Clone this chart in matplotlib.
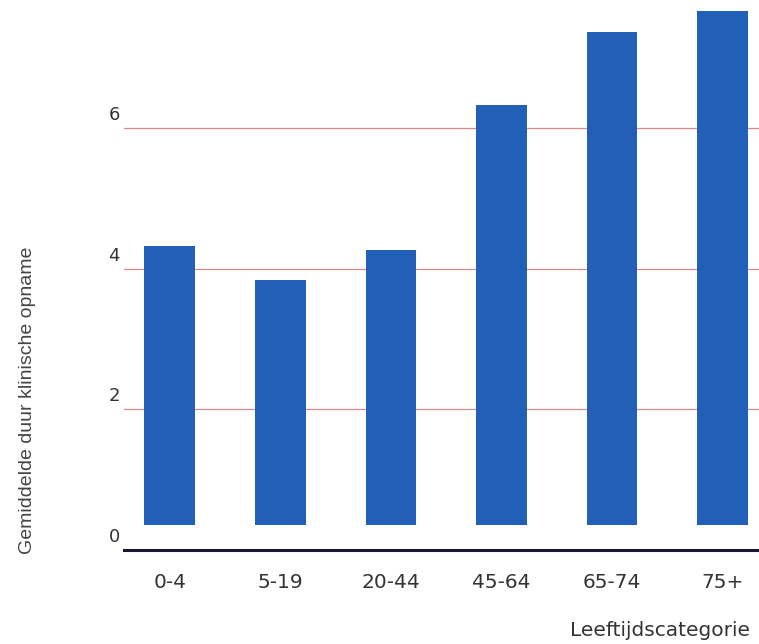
import matplotlib
matplotlib.use("Agg")
import matplotlib.pyplot as plt
from matplotlib.transforms import ScaledTranslation

categories = ["0-4", "5-19", "20-44", "45-64", "65-74", "75+"]
values = [4.33, 3.84, 4.27, 6.34, 7.38, 7.67]
y_ticks = [0, 2, 4, 6]
y_tick_labels = ["0", "2", "4", "6"]

bar_base = 0.36  # bars float slightly above the axis line in the original

fig = plt.figure(figsize=(7.59, 6.44), dpi=100)
ax = fig.add_axes([124 / 759, (644 - 549.8) / 644, 1 - 124 / 759, 549.8 / 644])

x = list(range(len(categories)))
heights = [v - bar_base for v in values]
ax.bar(x, heights, bottom=bar_base, width=0.46, color="#2160b6", zorder=3)

ax.set_xlim(-0.415, 5.33)
ax.set_ylim(0, 7.83)

for t in y_ticks[1:]:
    ax.axhline(t, color="#e08888", linewidth=0.9, zorder=1)
ax.axhline(0, color="#1c1430", linewidth=2.2, zorder=4, clip_on=False)

for s in ax.spines.values():
    s.set_visible(False)

ax.set_xticks(x)
ax.set_xticklabels(categories, fontsize=14.5, color="#333333", family="DejaVu Sans")
ax.tick_params(axis="x", length=0, pad=17)

ax.set_yticks(y_ticks)
ax.set_yticklabels(y_tick_labels, fontsize=13, color="#333333", family="DejaVu Sans")
ax.tick_params(axis="y", length=0, pad=3)
off = ScaledTranslation(0, 15 / 100, fig.dpi_scale_trans)
for lab in ax.get_yticklabels():
    lab.set_transform(lab.get_transform() + off)

fig.text(750 / 759, 1 - 630 / 644, "Leeftijdscategorie", ha="right", va="center",
         fontsize=14.5, color="#333333", family="DejaVu Sans")
fig.text(28 / 759, 1 - 400 / 644, "Gemiddelde duur klinische opname", rotation=90,
         ha="center", va="center", fontsize=14, color="#444444", family="Liberation Sans")

fig.savefig("out.png", dpi=100, facecolor="white")
